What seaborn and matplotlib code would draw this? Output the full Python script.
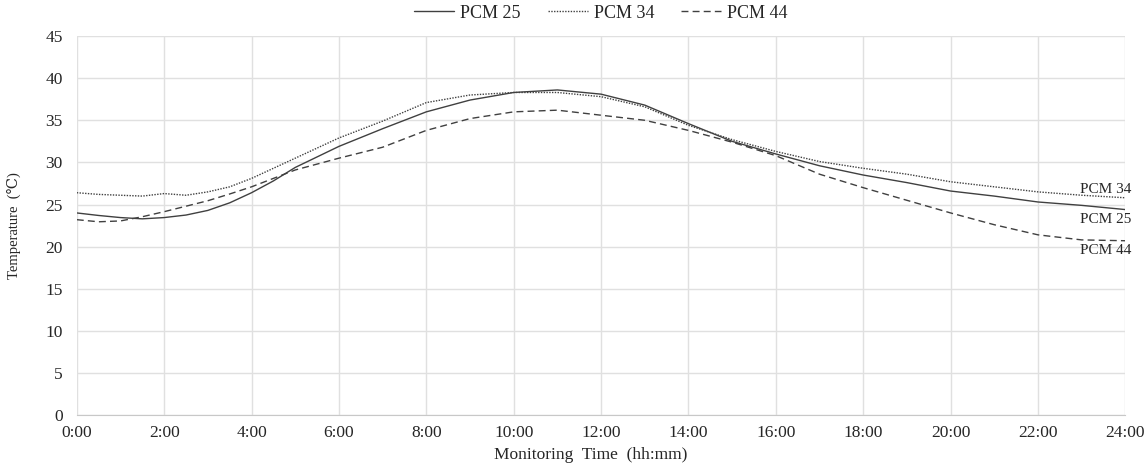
import matplotlib
matplotlib.use("Agg")
import matplotlib.pyplot as plt
import pandas as pd
import seaborn as sns

hours = [0, 0.5, 1, 1.5, 2, 2.5, 3, 3.5, 4, 4.5, 5, 6, 7, 8, 9, 10, 11, 12,
         13, 14, 15, 16, 17, 18, 19, 20, 21, 22, 23, 24]
pcm25 = [24.0, 23.7, 23.45, 23.3, 23.45, 23.75, 24.3, 25.2, 26.4, 27.8, 29.4, 31.9,
         34.0, 36.0, 37.4, 38.3, 38.6, 38.1, 36.8, 34.6, 32.5, 31.0, 29.6, 28.5,
         27.6, 26.6, 26.0, 25.3, 24.9, 24.4]
pcm34 = [26.4, 26.2, 26.1, 26.0, 26.3, 26.1, 26.5, 27.1, 28.1, 29.3, 30.5, 32.9,
         34.9, 37.1, 38.0, 38.3, 38.3, 37.8, 36.6, 34.4, 32.7, 31.3, 30.1, 29.3,
         28.6, 27.7, 27.1, 26.5, 26.1, 25.8]
pcm44 = [23.2, 22.95, 23.05, 23.55, 24.15, 24.8, 25.45, 26.25, 27.1, 28.1, 29.1, 30.5,
         31.8, 33.8, 35.2, 36.0, 36.2, 35.6, 35.0, 33.8, 32.4, 30.8, 28.6, 27.0,
         25.5, 24.0, 22.6, 21.4, 20.8, 20.7]
series_names = ["PCM 25", "PCM 34", "PCM 44"]
x_ticks = list(range(0, 25, 2))
x_labels = [f"{h}:00" for h in x_ticks]

df = pd.DataFrame({"hour": hours * 3,
                   "temp": pcm25 + pcm34 + pcm44,
                   "series": sum([[n] * len(hours) for n in series_names], [])})

sns.set_style("white")
plt.rcParams["font.family"] = ["Liberation Serif", "DejaVu Serif"]

fig = plt.figure(figsize=(11.46, 4.68), dpi=100)
ax = fig.add_axes([0.067, 0.113, 0.915, 0.81])

sns.lineplot(data=df, x="hour", y="temp", style="series",
             dashes={"PCM 25": "", "PCM 34": (1, 1), "PCM 44": (5, 3)},
             color="#404040", linewidth=1.0, ax=ax)

ax.set_xlim(0, 24)
ax.set_ylim(0, 45)
ax.set_xticks(x_ticks)
ax.set_xticklabels(x_labels)
ax.set_yticks(range(0, 46, 5))
ax.grid(True, color="#e0e0e0", linewidth=1)
ax.tick_params(length=0, labelsize=12.5)
ax.tick_params(axis="x", pad=7)
ax.tick_params(axis="y", pad=10)
for s in ["top", "right", "left"]:
    ax.spines[s].set_visible(False)
ax.spines["bottom"].set_color("#c8c8c8")

ax.set_xlabel("Monitoring  Time  (hh:mm)", fontsize=12.5, labelpad=4)
ax.xaxis.set_label_coords(0.49, -0.085)
ax.set_ylabel("Temperature  (℃)", fontsize=10.5, labelpad=18)

handles, labels = ax.get_legend_handles_labels()
ax.legend(handles, labels, loc="lower center", bbox_to_anchor=(0.5, 1.005), ncol=3,
          frameon=False, fontsize=13, handlelength=2.2, handletextpad=0.35,
          columnspacing=1.5, borderaxespad=0.3)

# end-of-line labels
last = {"PCM 25": pcm25[-1], "PCM 34": pcm34[-1], "PCM 44": pcm44[-1]}
offsets = {"PCM 25": -7.5, "PCM 34": 5.6, "PCM 44": -6.7}
for name in series_names:
    ax.annotate(name, xy=(hours[-1], last[name]), xytext=(-14, offsets[name]),
                textcoords="offset points", ha="center", va="center", fontsize=11,
                annotation_clip=False)

fig.savefig("out.png", dpi=100)
